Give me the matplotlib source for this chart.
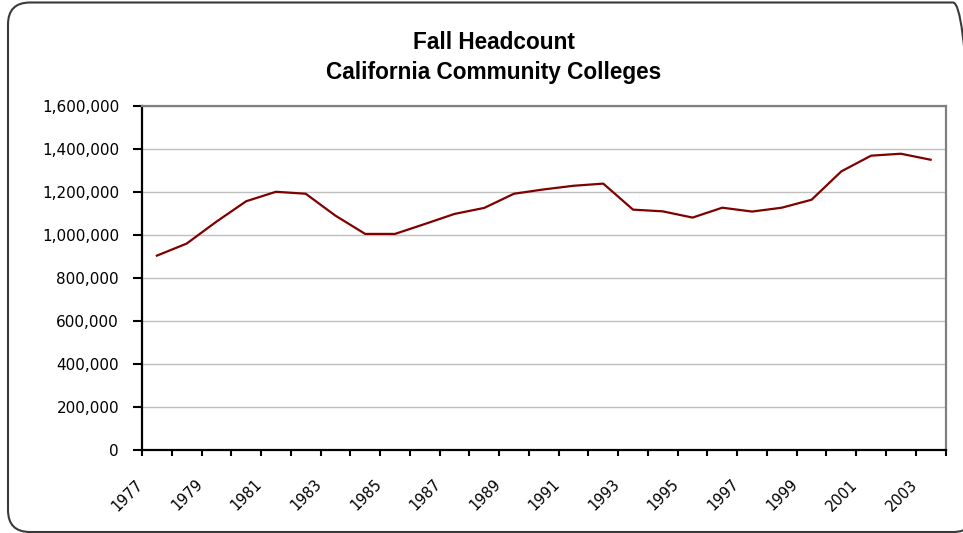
import matplotlib
matplotlib.use("Agg")
import matplotlib.pyplot as plt
import matplotlib.transforms as mtransforms
from matplotlib.patches import FancyBboxPatch

# Fall headcount, California Community Colleges
years = [1977, 1978, 1979, 1980, 1981, 1982, 1983, 1984, 1985, 1986,
         1987, 1988, 1989, 1990, 1991, 1992, 1993, 1994, 1995, 1996,
         1997, 1998, 1999, 2000, 2001, 2002, 2003]
headcount = [904000, 960000, 1062000, 1157000, 1201000, 1192000, 1090000,
             1005000, 1005000, 1051000, 1098000, 1126000, 1192000, 1212000,
             1229000, 1239000, 1118000, 1110000, 1081000, 1127000, 1109000,
             1127000, 1164000, 1296000, 1369000, 1378000, 1350000]
y_ticks = [0, 200000, 400000, 600000, 800000, 1000000, 1200000, 1400000, 1600000]

W, H = 963, 533
fig = plt.figure(figsize=(W / 100, H / 100), dpi=100, facecolor="white")

# rounded chart-area border (runs off the right edge like the original)
frame = FancyBboxPatch((8, 1), 967, 529.5,
                       boxstyle="round,pad=0,rounding_size=22",
                       transform=mtransforms.IdentityTransform(),
                       facecolor="none", edgecolor="#3a3a3a", linewidth=1.5)
fig.add_artist(frame)

left, right, top, bottom = 142, 945.5, 106, 450
ax = fig.add_axes([left / W, 1 - bottom / H, (right - left) / W, (bottom - top) / H])

x = list(range(len(years)))
ax.plot(x, headcount, color="#800000", linewidth=1.6, zorder=3)

ax.set_xlim(-0.5, len(years) - 0.5)
ax.set_ylim(0, 1600000)

# y axis
ax.set_yticks(y_ticks)
ax.set_yticklabels([f"{v:,}" for v in y_ticks], fontsize=11, family="DejaVu Sans")
ax.yaxis.grid(True, color="#c0c0c0", linewidth=1.0)
ax.set_axisbelow(True)
ax.tick_params(axis="y", direction="out", length=6.5, width=1.5, pad=10, color="black")

# x axis: ticks between categories, labels every other year
ax.set_xticks([i - 0.5 for i in range(len(years) + 1)])
ax.set_xticklabels([])
ax.tick_params(axis="x", direction="out", length=4, width=1.5, color="black")
shift = mtransforms.ScaledTranslation(-16 / 100, -32 / 100, fig.dpi_scale_trans)
for i, yr in enumerate(years):
    if i % 2 == 0:
        ax.text(i, 0, str(yr), rotation=45, rotation_mode="anchor",
                ha="right", va="center", fontsize=10.5, family="DejaVu Sans",
                transform=ax.transData + shift, clip_on=False)

for side in ("left", "bottom"):
    ax.spines[side].set_color("black")
    ax.spines[side].set_linewidth(1.6)
for side in ("top", "right"):
    ax.spines[side].set_color("#808080")
    ax.spines[side].set_linewidth(1.6)

# title
tx = 493.5 / W
title_font = ["Liberation Sans", "DejaVu Sans"]
fig.text(tx, 1 - 49.3 / H, "Fall Headcount", ha="center", va="baseline",
         fontsize=16.3, fontweight="bold", family=title_font)
fig.text(tx, 1 - 79 / H, "California Community Colleges", ha="center", va="baseline",
         fontsize=16.3, fontweight="bold", family=title_font)

fig.savefig("out.png", dpi=100, facecolor="white")
